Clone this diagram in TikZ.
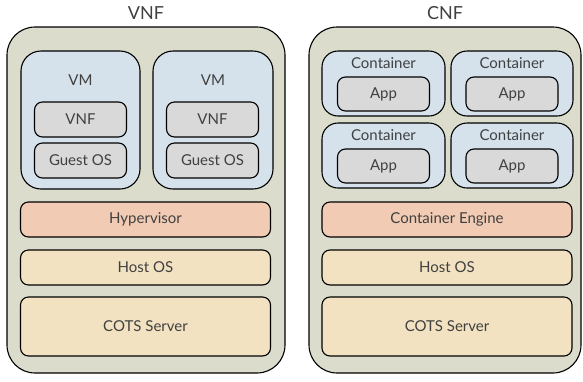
\documentclass[tikz,border=0pt]{standalone}
\usepackage{fontspec}
\setmainfont{Lato}
\usetikzlibrary{positioning}
\definecolor{shellgrey}{RGB}{219,220,203}
\definecolor{vmblue}{RGB}{213,226,236}
\definecolor{appgrey}{RGB}{217,217,217}
\definecolor{hypsalmon}{RGB}{241,203,179}
\definecolor{hostbeige}{RGB}{242,226,193}
\definecolor{inktext}{RGB}{64,64,64}

\begin{document}
\begin{tikzpicture}[x=1pt, y=-1pt,
  box/.style={draw=black, line width=1.1pt, inner sep=0pt, text=inktext, font=\fontsize{15}{17}\selectfont},
  shell/.style={box, fill=shellgrey, rounded corners=28pt, minimum width=#1, minimum height=346pt},
  vmbox/.style={box, fill=vmblue, rounded corners=20pt, minimum width=#1, minimum height=138pt},
  ctbox/.style={box, fill=vmblue, rounded corners=16pt, minimum width=#1, minimum height=65pt},
  appbox/.style={box, fill=appgrey, rounded corners=8pt, minimum width=92pt, minimum height=#1},
  layer/.style={box, rounded corners=8pt, minimum width=250pt, minimum height=#1},
  lbl/.style={text=inktext, inner sep=0pt, font=\fontsize{15}{17}\selectfont},
  title/.style={text=inktext, inner sep=0pt, font=\fontsize{18}{20}\selectfont}]
  \useasboundingbox (0,0) rectangle (583,381);

  % VNF side
  \node[title] (vnftitle) at (146,13) {VNF};
  \node[shell=278pt] (vnfshell) at (146,200) {};
  \node[vmbox=119pt] (vm1) at (80.5,120) {};
  \node[vmbox=120pt] (vm2) at (213,120) {};
  \node[lbl] (vm1lbl) at (80.5,80) {VM};
  \node[lbl] (vm2lbl) at (213,80) {VM};
  \node[appbox=35pt] (vnf1) at (80.5,119.5) {VNF};
  \node[appbox=35pt] (vnf2) at (212.5,119.5) {VNF};
  \node[appbox=35pt] (guest1) at (80.5,160.5) {Guest OS};
  \node[appbox=35pt] (guest2) at (212.5,160.5) {Guest OS};
  \node[layer=35pt, fill=hypsalmon] (hypv) at (145.5,219.5) {Hypervisor};
  \node[layer=35pt, fill=hostbeige] (vnfhost) at (145.5,267.5) {Host OS};
  \node[layer=59pt, fill=hostbeige] (vnfcots) at (145.5,326.5) {COTS Server};

  % CNF side
  \node[title] (cnftitle) at (445,13) {CNF};
  \node[shell=272pt] (cnfshell) at (445,200) {};
  \foreach \cx/\cw/\i in {383.5/123pt/1, 512/122pt/2} {
    \foreach \cy/\j in {83.5/a, 155.5/b} {
      \node[ctbox=\cw] (ct\i\j) at (\cx,\cy) {};
      \node[lbl, below=7pt of ct\i\j.north] (ct\i\j lbl) {Container};
      \node[appbox=34pt] (app\i\j) at (\cx,\cy+10.5) {App};
    }
  }
  \node[layer=35pt, fill=hypsalmon] (engine) at (447,219.5) {Container Engine};
  \node[layer=35pt, fill=hostbeige] (cnfhost) at (447,267.5) {Host OS};
  \node[layer=59pt, fill=hostbeige] (cnfcots) at (447,326.5) {COTS Server};
\end{tikzpicture}
\end{document}
